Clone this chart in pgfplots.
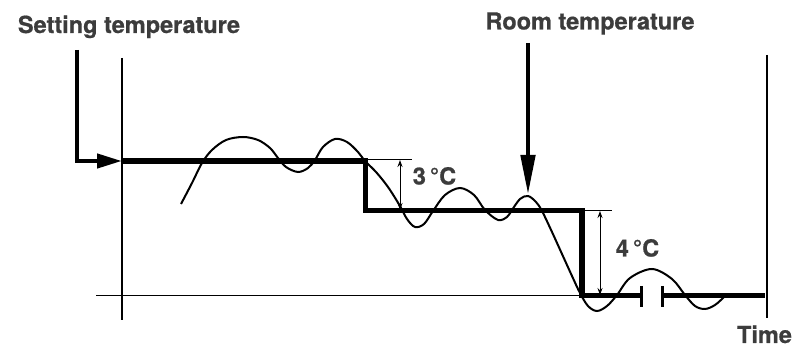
\documentclass[border=0pt]{standalone}
\usepackage{pgfplots}
\pgfplotsset{compat=1.18}
\usepackage{fontspec}
\setmainfont{TeX Gyre Heros}[BoldFeatures={FakeBold=0.7}]
\usetikzlibrary{arrows.meta}
\definecolor{txt}{HTML}{3C3C3C}
\begin{document}
\begin{tikzpicture}
\begin{axis}[scale only axis, width=796pt, height=347pt,
  xmin=0, xmax=796, ymin=0, ymax=347, y dir=reverse,
  hide axis, clip=false]
\path (axis cs:0,0) rectangle (axis cs:796,347);
% axes
\addplot[black, line width=1.2pt] coordinates {(122,58)(122,320)};
\addplot[black, line width=1.2pt] coordinates {(96,295.5)(582,295.5)};
\addplot[black, line width=1.3pt] coordinates {(767,55)(767,318)};
% dimension extension lines
\addplot[black, line width=1pt] coordinates {(365,159.5)(412,159.5)};
\addplot[black, line width=1pt] coordinates {(582,210.5)(612,210.5)};
% dimension arrows
\addplot[black, line width=1pt, {Stealth[length=7pt,width=5pt]}-{Stealth[length=7pt,width=5pt]}] coordinates {(400,160)(400,210)};
\addplot[black, line width=1pt, {Stealth[length=7pt,width=5pt]}-{Stealth[length=7pt,width=5pt]}] coordinates {(600,211)(600,295)};
% room temperature curve
\addplot[black, line width=2pt, smooth, tension=0.55] coordinates {
(181,204)(192,183)(202,163)(212,150)(226,140)(243,137)(258,140)(270,148)(278,158)(286,167)(298,172)(308,168)(315,160)(323,147)(335,139)(347,142)(358,152)(365,161)(376,172)(388,187)(400,206)(407,219)(415,227)(424,224)(433,211)(445,195)(460,188)(474,195)(485,210)(498,220)(507,217)(512,210)(520,199)(528,196)(536,202)(542,211)(552,232)(562,254)(572,276)(580,293)(588,306)(597,311)(607,306)(617,295)(630,278)(652,269)(672,279)(685,295)(695,306)(705,309)(715,305)(724,297)};
% setting temperature step line
\addplot[black, line width=5.7pt, line join=miter, line cap=butt] coordinates {(122,161)(365.5,161)(365.5,210.5)(582,210.5)(582,295.5)(641,295.5)};
\addplot[black, line width=5.7pt, line cap=butt] coordinates {(662,295.5)(765,295.5)};
% break ticks
\addplot[black, line width=3pt] coordinates {(641,286)(641,307)};
\addplot[black, line width=3pt] coordinates {(662,286)(662,307)};
% pointer arrows
\addplot[black, line width=4.3pt, line join=miter, -{Triangle[length=25pt,width=14pt]}] coordinates {(77.3,50)(77.3,161)(122,161)};
\addplot[black, line width=4.8pt, -{Triangle[length=40pt,width=14pt]}] coordinates {(528,43)(528,195)};
% labels
\node[anchor=base, font=\fontsize{23.5}{28}\selectfont\bfseries, text=txt, inner sep=0pt] at (axis cs:129,33) {Setting temperature};
\node[anchor=base, font=\fontsize{23.5}{28}\selectfont\bfseries, text=txt, inner sep=0pt] at (axis cs:590,29.5) {Room temperature};
\node[anchor=base, font=\fontsize{23.5}{28}\selectfont\bfseries, text=txt, inner sep=0pt] at (axis cs:434.5,184.5) {3\,°C};
\node[anchor=base, font=\fontsize{23.5}{28}\selectfont\bfseries, text=txt, inner sep=0pt] at (axis cs:637.5,256.5) {4\,°C};
\node[anchor=base, font=\fontsize{23.5}{28}\selectfont\bfseries, text=txt, inner sep=0pt] at (axis cs:764.5,343) {Time};
\end{axis}
\end{tikzpicture}
\end{document}
